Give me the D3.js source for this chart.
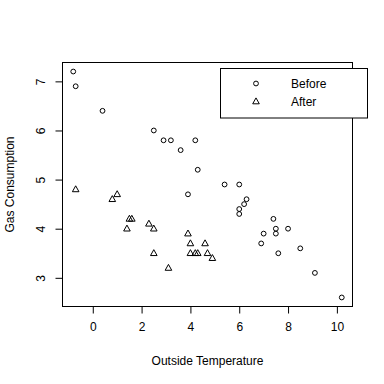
<!DOCTYPE html>
<html><head><meta charset="utf-8">
<script src="https://cdn.jsdelivr.net/npm/d3@7"></script>
<style>body{margin:0;background:#fff}svg{display:block}text{font-family:"Liberation Sans",Arial,sans-serif;fill:#000}</style>
</head><body><div id="chart"></div>
<script>
const beforeTemp = [-0.8,-0.7,0.4,2.5,2.9,3.2,3.6,3.9,4.2,4.3,5.4,6.0,6.0,6.0,6.2,6.3,6.9,7.0,7.4,7.5,7.5,7.6,8.0,8.5,9.1,10.2];
const beforeGas  = [7.2,6.9,6.4,6.0,5.8,5.8,5.6,4.7,5.8,5.2,4.9,4.9,4.3,4.4,4.5,4.6,3.7,3.9,4.2,4.0,3.9,3.5,4.0,3.6,3.1,2.6];
const afterTemp  = [-0.7,0.8,1.0,1.4,1.5,1.6,2.3,2.5,2.5,3.1,3.9,4.0,4.0,4.2,4.3,4.6,4.7,4.9];
const afterGas   = [4.8,4.6,4.7,4.0,4.2,4.2,4.1,4.0,3.5,3.2,3.9,3.7,3.5,3.5,3.5,3.7,3.5,3.4];
const xTicks = [0,2,4,6,8,10];
const yTicks = [3,4,5,6,7];
const legendLabels = ["Before","After"];

const W=384,H=384, L=62.5, R=352.5, T=62.5, B=306.5;
const svg=d3.select("#chart").append("svg").attr("width",W).attr("height",H);
svg.append("rect").attr("width",W).attr("height",H).attr("fill","#fff");

const xr=d3.extent(beforeTemp), yr=d3.extent(beforeGas);
const xp=(xr[1]-xr[0])*0.04, yp=(yr[1]-yr[0])*0.04;
const x=d3.scaleLinear().domain([xr[0]-xp,xr[1]+xp]).range([L,R]);
const y=d3.scaleLinear().domain([yr[0]-yp,yr[1]+yp]).range([B,T]);

// x axis
const xa=svg.append("g").attr("transform",`translate(0,${B})`)
  .call(d3.axisBottom(x).tickValues(xTicks).tickFormat(d3.format("d")).tickSize(7).tickPadding(9).tickSizeOuter(0));
xa.select(".domain").attr("d",`M${x(xTicks[0])},0H${x(xTicks[xTicks.length-1])}`);
// y axis
const ya=svg.append("g").attr("transform",`translate(${L},0)`)
  .call(d3.axisLeft(y).tickValues(yTicks).tickFormat(d3.format("d")).tickSize(7).tickPadding(0).tickSizeOuter(0));
ya.select(".domain").attr("d",`M0,${y(yTicks[0])}V${y(yTicks[yTicks.length-1])}`);
ya.selectAll(".tick text").attr("x",null).attr("dy",null)
  .attr("transform","translate(-22,0) rotate(-90)").attr("text-anchor","middle").attr("dominant-baseline","central");
svg.selectAll(".tick text").attr("font-size",12).attr("font-family","Liberation Sans, Arial, sans-serif");
svg.selectAll(".domain,.tick line").attr("stroke","#000").attr("stroke-width",1);

// box
svg.append("rect").attr("x",L).attr("y",T).attr("width",R-L).attr("height",B-T)
  .attr("fill","none").attr("stroke","#000").attr("stroke-width",1);

// titles
svg.append("text").attr("x",(L+R)/2).attr("y",365).attr("text-anchor","middle").attr("font-size",12).text("Outside Temperature");
svg.append("text").attr("transform",`translate(14,${(T+B)/2}) rotate(-90)`).attr("text-anchor","middle").attr("font-size",12).text("Gas Consumption");

const tri=(cx,cy)=>`M${cx},${cy-3.6}L${cx+3.3},${cy+2.3}L${cx-3.3},${cy+2.3}Z`;

svg.append("g").selectAll("circle").data(beforeTemp).join("circle")
  .attr("cx",(d)=>x(d)).attr("cy",(d,i)=>y(beforeGas[i])).attr("r",2.4)
  .attr("fill","none").attr("stroke","#000").attr("stroke-width",1);
svg.append("g").selectAll("path").data(afterTemp).join("path")
  .attr("d",(d,i)=>tri(x(d),y(afterGas[i])))
  .attr("fill","none").attr("stroke","#000").attr("stroke-width",1);

// legend
const lg=svg.append("g");
lg.append("rect").attr("x",220.5).attr("y",68.5).attr("width",147).attr("height",49.5)
  .attr("fill","#fff").attr("stroke","#000").attr("stroke-width",1);
lg.append("circle").attr("cx",256).attr("cy",83.5).attr("r",2.4).attr("fill","none").attr("stroke","#000");
lg.append("path").attr("d",tri(256,101.5)).attr("fill","none").attr("stroke","#000");
lg.selectAll("text.lab").data(legendLabels).join("text").attr("class","lab")
  .attr("x",291).attr("y",(d,i)=>84+i*17.5).attr("dominant-baseline","central").attr("font-size",12).text(d=>d);
</script></body></html>
